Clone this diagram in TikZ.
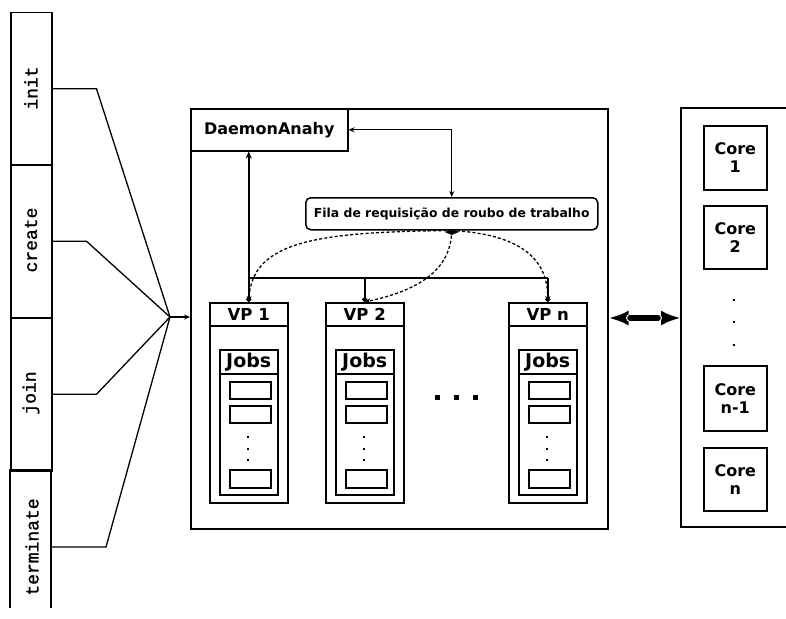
\documentclass[tikz,border=0pt]{standalone}
\usepackage{fontspec}
\setmainfont{DejaVu Sans}
\newfontfamily\callfont[FakeBold=1.2]{Liberation Mono}
\usetikzlibrary{arrows.meta}
\begin{document}
\begin{tikzpicture}[x=1pt,y=-1pt,
  box/.style={draw, line width=1.5pt, inner sep=0pt, anchor=north west},
  bold/.style={font=\bfseries\fontsize{#1}{#1}\selectfont},
  call/.style={rotate=90, inner sep=0pt, font=\callfont\fontsize{18}{18}\selectfont},
  conn/.style={line width=1.3pt},
  bus/.style={line width=1.7pt},
  steal/.style={dashed, dash pattern=on 3pt off 2.2pt, line width=1.3pt,
    -{Stealth[length=6pt,width=5pt]}},
  core/.style={box, minimum width=63pt, align=center,
    font=\bfseries\fontsize{16}{18}\selectfont},
  dot/.style={fill, inner sep=0pt, minimum size=2pt}]
\useasboundingbox (0,0) rectangle (786,618);

% API calls on the left
\node[box, minimum width=41pt, minimum height=152pt] (init) at (10,12) {};
\node[box, minimum width=41pt, minimum height=153pt] (create) at (10,164) {};
\node[box, minimum width=41pt, minimum height=153pt] (join) at (10,317) {};
\draw[line width=1.5pt] (10,608) -- (10,470) -- (51,470) -- (51,608);
\coordinate (term) at (51,547);
\node[call] at (31,88) {init};
\node[call] at (31,240) {create};
\node[call] at (31,393) {join};
\node[call] at (32,547) {terminate};

% runtime
\node[box, minimum width=417pt, minimum height=420pt] (main) at (190,108) {};
\coordinate (J) at (170,317);
\draw[conn] (init.east) -- ++(44,0) -- (J);
\draw[conn] (create.east) -- ++(34,0) -- (J);
\draw[conn] (join.east) -- ++(44,0) -- (J);
\draw[conn] (term) -- ++(55,0) -- (J);
\draw[conn, -{Stealth[length=6pt,width=5pt]}] (J) -- (J -| main.west);

\node[box, minimum width=157pt, minimum height=42pt, bold=16] (daemon) at (190,108) {DaemonAnahy};
\node[box, rounded corners=5pt, minimum width=292pt, minimum height=32pt, bold=12.4] (fila) at (305,197)
  {Fila de requisição de roubo de trabalho};
\draw[conn, {Stealth[length=6pt,width=5pt]}-{Stealth[length=6pt,width=5pt]}] (daemon.east) -| (fila.north);

% virtual processors
\foreach \x/\n/\lab in {209/1/VP 1, 325/2/VP 2, 508/n/VP n}{
  \node[box, minimum width=78pt, minimum height=200pt] (vp\n) at (\x,302) {};
  \node[box, minimum width=78pt, minimum height=23pt, bold=16.5] (vp\n h) at (\x,302) {\lab};
  \node[box, minimum width=58pt, minimum height=145pt] (jobs\n) at (\x+10,349) {};
  \node[box, minimum width=58pt, minimum height=24pt, bold=19] (jobs\n h) at (\x+10,349) {Jobs};
  \node[box, minimum width=41pt, minimum height=17pt] (job\n a) at (\x+20,381) {};
  \node[box, minimum width=41pt, minimum height=17pt] (job\n b) at (\x+20,405) {};
  \node[box, minimum width=41pt, minimum height=18pt] (job\n c) at (\x+20,469) {};
  \foreach \y in {437,449,460} \node[dot] at (\x+39,\y) {};
}
\foreach \x in {437,456,475} \node[fill, inner sep=0pt, minimum size=5pt] at (\x,397) {};

% bus to the daemon
\coordinate (b1) at (vp1h.north |- 0,278);
\coordinate (b2) at (vp2h.north |- 0,278);
\coordinate (bn) at (vpnh.north |- 0,278);
\draw[bus, {Circle[length=5pt]}-{Stealth[length=7pt,width=6pt]}] (vp1h.north) -- (vp1h.north |- daemon.south);
\draw[bus] (b1) -- (bn);
\draw[bus, {Circle[length=5pt]}-] (vp2h.north) -- (b2);
\draw[bus, {Circle[length=5pt]}-] (vpnh.north) -- (bn);

% work-stealing requests
\draw[steal] (fila.south) .. controls (320,232) and (252,240) .. (vp1h.north);
\draw[steal] (fila.south) .. controls (451,275) and (410,292) .. (vp2h.north);
\draw[steal] (fila.south) .. controls (515,234) and (548,255) .. (vpnh.north);
\fill (fila.south) ++(-7,1.5) -- ++(7,-3) -- ++(7,3) -- ++(-7,3) -- cycle;

% cores
\draw[line width=1.5pt] (786,108) -- (681,108) -- (681,527) -- (786,527);
\coordinate (cores) at (681,318);
\draw[line width=4pt, {Latex[length=20pt,width=15pt]}-{Latex[length=20pt,width=15pt]}]
  (main.east |- cores) -- (cores);
\draw[white, line width=8pt, line cap=round] (630,318) -- (658,318);
\draw[line width=5.5pt, line cap=round] (630,318) -- (658,318);
\node[core, minimum height=64pt] (c1) at (703,125) {Core\\1};
\node[core, minimum height=63pt] (c2) at (703,205) {Core\\2};
\node[core, minimum height=65pt] (cn1) at (703,365) {Core\\n-1};
\node[core, minimum height=63pt] (cn) at (703,447) {Core\\n};
\foreach \y in {300,322,345} \node[dot, minimum size=2.5pt] at (734,\y) {};
\end{tikzpicture}
\end{document}
